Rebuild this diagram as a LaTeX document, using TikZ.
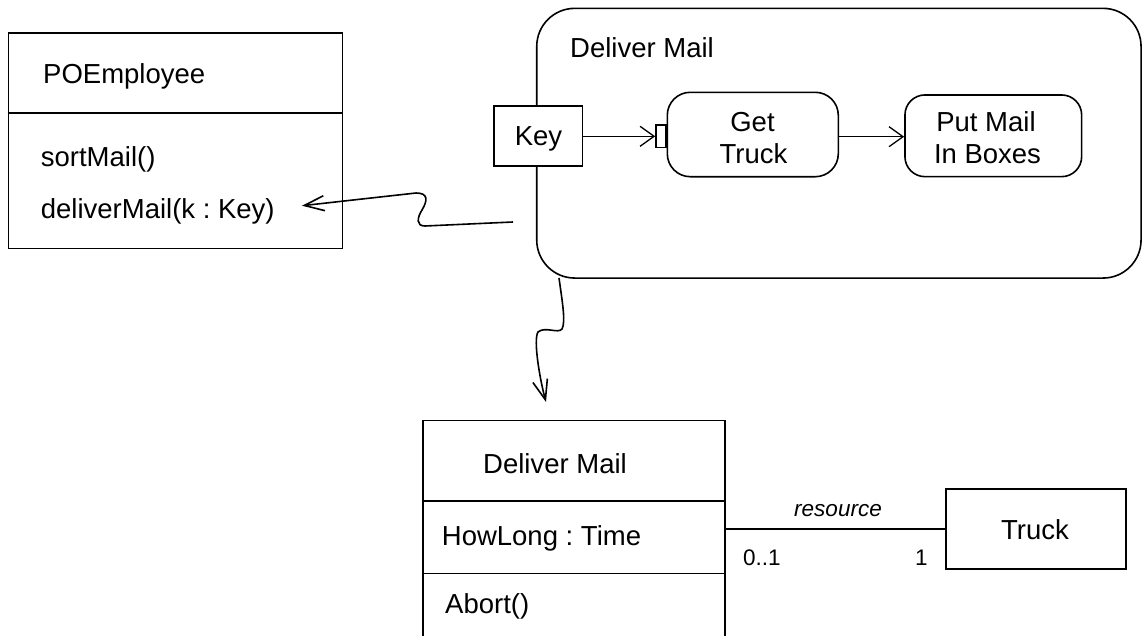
\documentclass[tikz,border=0pt]{standalone}
\usepackage{fontspec}
\setmainfont{Liberation Sans}
\usetikzlibrary{arrows.meta}
\frenchspacing
\begin{document}
\begin{tikzpicture}[x=1pt,y=-1pt,
  every node/.style={font=\fontsize{27.5}{31.6}\selectfont},
  box/.style={draw, line width=1.6pt, inner sep=0pt},
  border/.style={line width=1.6pt},
  txt/.style={anchor=base west, inner sep=0pt},
  ctxt/.style={anchor=base, inner sep=0pt},
  small/.style={font=\fontsize{22.5}{27}\selectfont},
  flow/.style={line width=1.3pt, -{Straight Barb[length=14pt,width=20pt]}},
  wave/.style={line width=1.6pt, -{Straight Barb[length=20pt,width=15pt]}}]
\useasboundingbox (0,0) rectangle (1143,635);

% POEmployee class
\node[box, minimum width=334pt, minimum height=215.6pt] (poe) at (175.3,140.5) {};
\draw[border] (poe.west |- 0,112.7) -- (poe.east |- 0,112.7);
\node[txt] (poename) at (43,83.3) {POEmployee};
\node[txt] (sortm) at (40.7,166.7) {sortMail()};
\node[txt] (delm) at (40.7,218.3) {deliverMail(k : Key)};

% Activity
\node[box, rounded corners=38pt, minimum width=604.3pt, minimum height=269.7pt] (act) at (838.9,143.2) {};
\node[txt] (actname) at (570,57) {Deliver Mail};
\node[box, fill=white, minimum width=88.7pt, minimum height=60pt] (key) at (538.3,135.7) {};
\node[ctxt] (keytxt) at (538.5,145) {Key};
\node[box, rounded corners=23pt, minimum width=171pt, minimum height=84.4pt] (get) at (752.8,134.5) {};
\node[ctxt] (gett1) at (752.5,131.7) {Get};
\node[ctxt] (gett2) at (753.5,163.3) {Truck};
\node[box, line width=1.3pt, minimum width=10pt, minimum height=22.7pt, anchor=east] (pin) at (get.west |- 0,136.3) {};
\node[box, rounded corners=20pt, minimum width=176.7pt, minimum height=81.7pt] (put) at (993.3,135.8) {};
\node[ctxt] (putt1) at (986,131.7) {Put Mail};
\node[ctxt] (putt2) at (987.5,163.3) {In Boxes};
\draw[flow] (key.east |- pin.west) -- (pin.west);
\draw[flow] (get.east |- 0,136.7) -- (put.west |- 0,136.7);

% Deliver Mail class
\node[minimum width=302pt, minimum height=225pt, inner sep=0pt] (dmc) at (574,533.2) {};
\draw[border] (dmc.south west) -- (dmc.north west) -- (dmc.north east) -- (dmc.south east);
\draw[border] (dmc.west |- 0,500.7) -- (dmc.east |- 0,500.7);
\draw[border] (dmc.west |- 0,573.3) -- (dmc.east |- 0,573.3);
\node[txt] (dmcname) at (483,473.3) {Deliver Mail};
\node[txt] (howlong) at (441.7,545) {HowLong : Time};
\node[txt] (abort) at (445,613.3) {Abort()};

% Truck
\node[box, minimum width=180pt, minimum height=80pt] (truck) at (1036,529) {};
\node[ctxt] (trucktxt) at (1035,539.3) {Truck};
\draw[border] (truck.west) -- (truck.west -| dmc.east);
\node[ctxt, font=\fontsize{22.5}{27}\selectfont\itshape] (res) at (838,516) {resource};
\node[txt, small] (m01) at (743,565) {0..1};
\node[txt, small] (m1) at (915,565) {1};

% squiggly connectors
\coordinate (s1) at (513,222);
\coordinate (t1) at (302,205.7);
\draw[wave] (s1) -- (425,226) .. controls (416,226) and (417,218) .. (422,210) .. controls (428,200) and (428,193) .. (416,193) -- (t1);
\coordinate (s2) at (559,278);
\coordinate (t2) at (546,402);
\draw[wave] (s2) .. controls (562,300) and (566,322) .. (562,329) .. controls (558,334) and (545,326) .. (538,332) .. controls (533,340) and (540,380) .. (t2);
\end{tikzpicture}
\end{document}
